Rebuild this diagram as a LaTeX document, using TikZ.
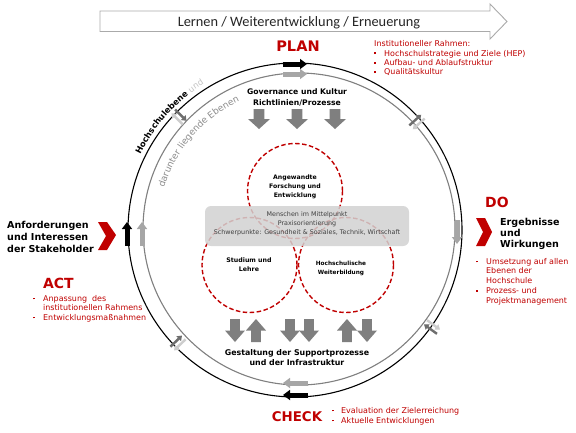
\documentclass[tikz,border=0pt]{standalone}
\usepackage{fontspec}
\setmainfont{DejaVu Sans}
\newfontfamily\bannerfont{Carlito}
\usetikzlibrary{arrows.meta,decorations.text}
\definecolor{redc}{RGB}{192,0,0}
\definecolor{arrgray}{RGB}{127,127,127}
\definecolor{ringarr}{RGB}{166,166,166}
\definecolor{ringgray}{RGB}{128,128,128}
\definecolor{boxgray}{RGB}{210,210,210}
\definecolor{darksm}{RGB}{110,110,110}
\definecolor{lightsm}{RGB}{205,205,205}
\definecolor{txtgray}{RGB}{140,140,140}
\definecolor{undgray}{RGB}{195,195,195}
\definecolor{boxtxt}{RGB}{64,64,64}
\definecolor{bannergray}{RGB}{170,170,170}
\newcommand\bulitem{\makebox[10bp][l]{\rule[1.9pt]{1.8pt}{1.8pt}}}
\newcommand\bulindent{\makebox[10bp]{}}
\tikzset{
  downarr/.pic={\fill[arrgray] (-0.24,0.5) -- (0.24,0.5) -- (0.24,0) -- (0.5,0) -- (0,-0.5) -- (-0.5,0) -- (-0.24,0) -- cycle;},
  smallarr/.style={line width=2.4bp, -{Triangle[length=4.5bp,width=6.5bp]}},
  pics/dblarr/.style args={#1/#2}{code={
    \draw[smallarr,#1] (-8,2.6) -- (8,2.6);
    \draw[smallarr,#2] (8,-2.6) -- (-8,-2.6);
  }},
  ringblk/.style={black, line width=5bp, -{Triangle[length=7bp,width=10bp]}},
  ringgr/.style={ringarr, line width=5bp, -{Triangle[length=7bp,width=10bp]}},
  reddash/.style={draw=redc, line width=1.4bp, dash pattern=on 4.5bp off 2.5bp, circle, minimum size=95bp, inner sep=0pt},
  lbl/.style={font=\fontsize{6.2}{9}\selectfont\bfseries, align=center, inner sep=0pt},
  bigred/.style={font=\fontsize{14}{14}\selectfont\bfseries, text=redc, inner sep=0pt},
  redlist/.style={font=\fontsize{8}{9.5}\selectfont, text=redc, align=left, inner sep=0pt, anchor=north west},
  blacklbl/.style={font=\fontsize{9.6}{12}\selectfont\bfseries, align=left, inner sep=0pt, anchor=north west},
}
\begin{document}
\begin{tikzpicture}[x=1bp,y=1bp]
\useasboundingbox (0,0) rectangle (576,432);
\fill[white] (0,0) rectangle (576,432);
% banner
\draw[fill=white, draw=bannergray, line width=0.9bp] (100,400.5) -- (100,421) -- (490,421) -- (490,428) -- (507,410.5) -- (490,393) -- (490,400.5) -- cycle;
\node[font=\bannerfont\fontsize{14.4}{14.4}\selectfont, text={rgb,255:red,38;green,38;blue,38}, anchor=base, inner sep=0pt] (banner) at (299,405.8) {Lernen / Weiterentwicklung / Erneuerung};
% rings
\coordinate (oc) at (295,202);
\coordinate (ic) at (299,203);
\draw[black, line width=1.1bp] (oc) circle[radius=167];
\draw[ringgray, line width=1.1bp] (ic) circle[radius=156];
% ring arrows
\draw[ringblk] (283,368) -- (307,368);
\draw[ringgr] (283,358) -- (307,358);
\draw[ringblk] (127,186) -- (127,210);
\draw[ringgr] (142,186) -- (142,210);
\draw[ringgr] (457,212) -- (457,188);
\draw[ringgr] (308,49) -- (283,49);
\draw[ringblk] (308,37) -- (283,37);
% small double arrows
\pic[rotate=135] (sa1) at (179,315) {dblarr={lightsm/darksm}};
\pic[rotate=42] (sa2) at (417,310) {dblarr={darksm/lightsm}};
\pic[rotate=224] (sa3) at (178,89) {dblarr={lightsm/darksm}};
\pic[rotate=324] (sa4) at (432,105) {dblarr={lightsm/darksm}};
% curved texts
\path[decorate, decoration={text along path, text={|\fontsize{8.4}{8.4}\selectfont\bfseries|Hochschulebene |\fontsize{8.4}{8.4}\selectfont\color{undgray}|und}}] ([shift={(154:172)}]oc) arc[start angle=154, end angle=95, radius=172];
\path[decorate, decoration={text along path, text color=txtgray, text={|\fontsize{9.1}{9.1}\selectfont|darunter liegende Ebenen}}] ([shift={(163:141)}]ic) arc[start angle=163, end angle=95, radius=141];
% PLAN
\node[bigred, font=\fontsize{14.6}{14.6}\selectfont\bfseries] (plan) at (298,386) {PLAN};
\node[redlist] (inst) at (374,391.7) {Institutioneller Rahmen:\\\bulitem Hochschulstrategie und Ziele (HEP)\\\bulitem Aufbau- und Ablaufstruktur\\\bulitem Qualitätskultur};
% governance
\node[lbl, font=\fontsize{7.7}{10.5}\selectfont\bfseries] (gov) at (297,334.5) {Governance und Kultur\\Richtlinien/Prozesse};
\pic[xscale=22,yscale=20] (ta1) at (259,313) {downarr};
\pic[xscale=22,yscale=20] (ta2) at (297,313) {downarr};
\pic[xscale=22,yscale=20] (ta3) at (335,313) {downarr};
% dashed circles
\node[reddash] (c1) at (295,241) {};
\node[reddash] (c2) at (249.5,167) {};
\node[reddash] (c3) at (346,167) {};
% grey box
\node[fill=boxgray, fill opacity=0.85, rounded corners=6bp, minimum width=204bp, minimum height=40bp, inner sep=0pt] (box) at (307,206) {};
\node[font=\fontsize{6.4}{9}\selectfont, text=boxtxt, align=center, inner sep=0pt] (boxtext) at (307,208) {Menschen im Mittelpunkt\\Praxisorientierung\\Schwerpunkte: Gesundheit \& Soziales, Technik, Wirtschaft};
% circle labels
\node[lbl] (t1) at (295,245) {Angewandte\\Forschung und\\Entwicklung};
\node[lbl, font=\fontsize{6.3}{9}\selectfont\bfseries] (t2) at (249,167.5) {Studium und\\Lehre};
\node[lbl, font=\fontsize{5.8}{9}\selectfont\bfseries] (t3) at (341,163.5) {Hochschulische\\Weiterbildung};
% bottom arrows
\pic[xscale=20,yscale=23] (ba1) at (235,101.5) {downarr};
\pic[xscale=20,yscale=-23] (ba2) at (256,101.5) {downarr};
\pic[xscale=20,yscale=23] (ba3) at (290,101.5) {downarr};
\pic[xscale=20,yscale=23] (ba4) at (309,101.5) {downarr};
\pic[xscale=20,yscale=-23] (ba5) at (347,101.5) {downarr};
\pic[xscale=20,yscale=23] (ba6) at (367,101.5) {downarr};
\node[lbl, font=\fontsize{7.9}{9.5}\selectfont\bfseries] (sup) at (297,74.5) {Gestaltung der Supportprozesse\\und der Infrastruktur};
% CHECK
\node[bigred, font=\fontsize{13.4}{13.4}\selectfont\bfseries] (check) at (297,15) {CHECK};
\node[redlist, font=\fontsize{8}{10}\selectfont] (chkl) at (332,25) {\makebox[9bp][l]{\rule[1.9pt]{1.8pt}{1.8pt}}Evaluation der Zielerreichung\\\makebox[9bp][l]{\rule[1.9pt]{1.8pt}{1.8pt}}Aktuelle Entwicklungen};
% DO
\node[bigred, anchor=west] (do) at (485,230) {DO};
\fill[redc] (476,214) -- (485,214) -- (492,200) -- (485,186) -- (476,186) -- (483,200) -- cycle;
\node[blacklbl, font=\fontsize{9.6}{11}\selectfont\bfseries] (erg) at (500,213.5) {Ergebnisse\\und\\Wirkungen};
\node[redlist, font=\fontsize{8}{9.75}\selectfont] (dol) at (476,174) {\bulitem Umsetzung auf allen\\\bulindent Ebenen der\\\bulindent Hochschule\\\bulitem Prozess- und\\\bulindent Projektmanagement};
% ACT / stakeholder
\node[blacklbl] (stake) at (7,210.5) {Anforderungen\\und Interessen\\der Stakeholder};
\fill[redc] (98,210) -- (107,210) -- (116,197) -- (107,182) -- (98,182) -- (106,196) -- cycle;
\node[bigred, anchor=west] (act) at (43,149) {ACT};
\node[redlist] (actl) at (33,137) {\bulitem Anpassung\ \ des\\\bulindent institutionellen Rahmens\\\bulitem Entwicklungsmaßnahmen};
\end{tikzpicture}
\end{document}
